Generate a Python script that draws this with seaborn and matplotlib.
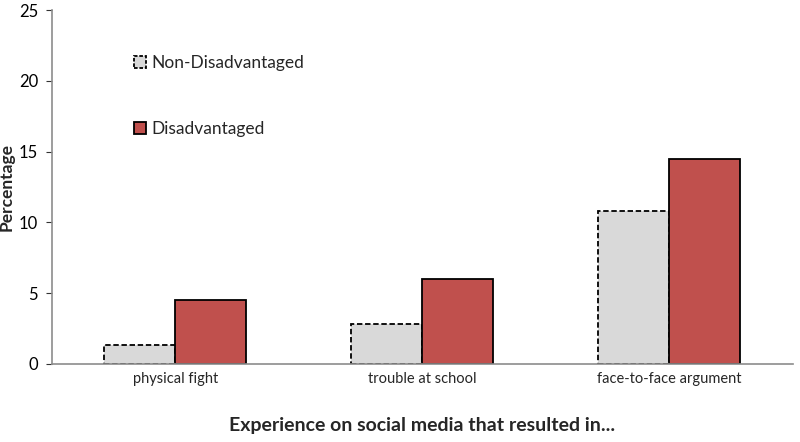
import matplotlib
matplotlib.use("Agg")
import matplotlib.pyplot as plt
import seaborn as sns
import pandas as pd

categories = ['physical fight', 'trouble at school', 'face-to-face argument']
non_disadvantaged = [1.3, 2.8, 10.8]
disadvantaged = [4.5, 6.0, 14.5]
groups = ['Non-Disadvantaged', 'Disadvantaged']

df = pd.DataFrame({
    'Experience': categories * 2,
    'Group': [groups[0]] * 3 + [groups[1]] * 3,
    'Percentage': non_disadvantaged + disadvantaged,
})

sns.set_style('white')
plt.rcParams['font.family'] = ['Lato', 'DejaVu Sans']

fig = plt.figure(figsize=(8, 4.42), dpi=100)
ax = fig.add_axes([0.065, 0.177, 0.926, 0.8])

sns.barplot(data=df, x='Experience', y='Percentage', hue='Group',
            palette=['#d9d9d9', '#c0504d'], saturation=1, width=0.575, ax=ax,
            edgecolor='black', linewidth=1.3, errorbar=None, dodge=True)

# dashed outline for the non-disadvantaged bars
for patch in ax.containers[0]:
    patch.set_linestyle((0, (3, 1.5)))

ax.set_ylim(0, 25)
ax.set_yticks([0, 5, 10, 15, 20, 25])
ax.tick_params(axis='y', labelsize=12, colors='#333333', length=4,
               left=True, direction='out', pad=6)
ax.tick_params(axis='x', labelsize=10.5, length=0, pad=6)
for lbl in ax.get_yticklabels():
    lbl.set_color('black')
for s in ['top', 'right']:
    ax.spines[s].set_visible(False)
for s in ['left', 'bottom']:
    ax.spines[s].set_color('#8c8c8c')
    ax.spines[s].set_linewidth(1.2)

ax.set_xlabel('Experience on social media that resulted in...', fontsize=14,
              fontweight='bold', labelpad=22)
ax.set_ylabel('Percentage', fontsize=12.5, fontweight='bold')
ax.yaxis.set_label_coords(-0.05, 0.5)

handles, labels = ax.get_legend_handles_labels()
handles[0].set_linestyle((0, (2, 1)))
ax.legend(handles, labels, loc='upper left', bbox_to_anchor=(0.09, 0.916),
          frameon=False, fontsize=12.5, labelspacing=2.85, handlelength=0.7,
          handleheight=0.7, handletextpad=0.3)

fig.savefig('out.png', dpi=100)
